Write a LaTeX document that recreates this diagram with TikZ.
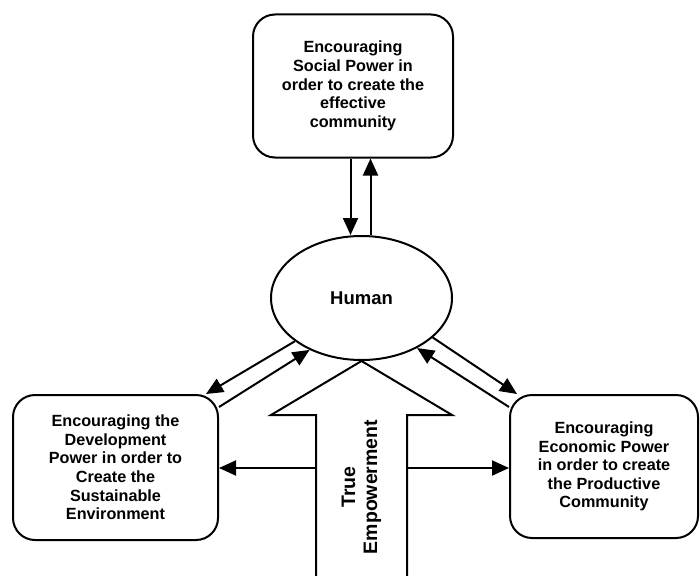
\documentclass[tikz,border=0pt]{standalone}
\usepackage{fontspec}
\setmainfont{Liberation Sans}
\usetikzlibrary{shapes.geometric,arrows.meta}

\begin{document}
\begin{tikzpicture}[x=1pt,y=-1pt]


\tikzset{
  BoxStyle/.style = { rectangle, rounded corners=22pt, draw, line width=2pt,
                      align=center, font = \bfseries\fontsize{16.2}{18.6}\selectfont },
  EdgeStyle/.style = { line width=2pt, -{Triangle[length=17pt,width=15pt]} } }
  \useasboundingbox (0,0) rectangle (700,575);

  \node[BoxStyle, minimum width=200pt, minimum height=143pt] (social) at (353,86)
    {Encouraging\\Social Power in\\order to create the\\effective\\community};
  \node[BoxStyle, minimum width=205pt, minimum height=145pt] (develop) at (115.5,467.5)
    {Encouraging the\\Development\\Power in order to\\Create the\\Sustainable\\Environment};
  \node[BoxStyle, minimum width=188pt, minimum height=143pt] (econ) at (604,466.5)
    {Encouraging\\Economic Power\\in order to create\\the Productive\\Community};
  \node[draw, ellipse, line width=2pt, minimum width=181pt, minimum height=124pt,
        font = \bfseries\fontsize{18.5}{20}\selectfont] (human) at (361.5,298) {Human};

  
  \coordinate (tip) at (361.5,361);
  \coordinate (shaftL) at (316,468);
  \coordinate (shaftR) at (407,468);
  \draw[line width=2pt] (316,580) -- (316,415) -- (271,415) -- (tip)
    -- (452,415) -- (407,415) -- (407,580);
  \node[rotate=90, align=center, font = \bfseries\fontsize{19.5}{22}\selectfont] (power) at (361.5,487)
    {True\\Empowerment};

  
  \draw[EdgeStyle] ([xshift=-11pt]human.north |- social.south) -- ([xshift=-11pt]human.north);
  \draw[EdgeStyle] ([xshift=9pt]human.north) -- ([xshift=9pt]human.north |- social.south);
  \draw[EdgeStyle] (human.213) -- ([xshift=-13pt]develop.north east);
  \draw[EdgeStyle] ([yshift=-13pt]develop.north east) -- (human.225);
  \draw[EdgeStyle] (human.331) -- ([xshift=8pt]econ.north west);
  \draw[EdgeStyle] ([yshift=-13pt]econ.north west) -- (human.318);
  \draw[EdgeStyle] (shaftL) -- (shaftL -| develop.east);
  \draw[EdgeStyle] (shaftR) -- (shaftR -| econ.west);

\end{tikzpicture}
\end{document}
